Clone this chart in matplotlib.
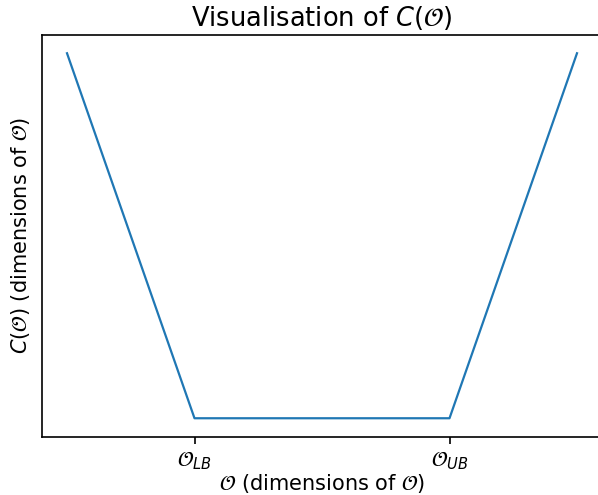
import matplotlib
matplotlib.use("Agg")
import matplotlib.pyplot as plt

# piecewise cost curve: rises outside [O_LB, O_UB]
o_vals = [0, 1, 3, 4]
cost_vals = [3, 0, 0, 3]
tick_pos = [1, 3]
tick_labels = [r"$\mathcal{O}_{LB}$", r"$\mathcal{O}_{UB}$"]

fig = plt.figure(figsize=(5.98, 4.95), dpi=100)
# axes run slightly past the right edge, like the cropped original
ax = fig.add_axes([41.5 / 598, 1 - 436.5 / 495, 561 / 598, 401.5 / 495])

ax.plot(o_vals, cost_vals, color="#1f77b4", linewidth=1.6)
ax.set_xticks(tick_pos)
ax.set_xticklabels(tick_labels, fontsize=15)
ax.set_yticks([])
ax.tick_params(axis="x", length=5, width=1.2, pad=4)
for s in ax.spines.values():
    s.set_linewidth(1.2)

ax.set_title(r"Visualisation of $C(\mathcal{O})$", fontsize=18.5, pad=6.5)
ax.set_xlabel(r"$\mathcal{O}$ (dimensions of $\mathcal{O}$)", fontsize=15, labelpad=0)
ax.set_ylabel(r"$C(\mathcal{O})$ (dimensions of $\mathcal{O}$)", fontsize=15, labelpad=7)

fig.savefig("out.png", dpi=100)
